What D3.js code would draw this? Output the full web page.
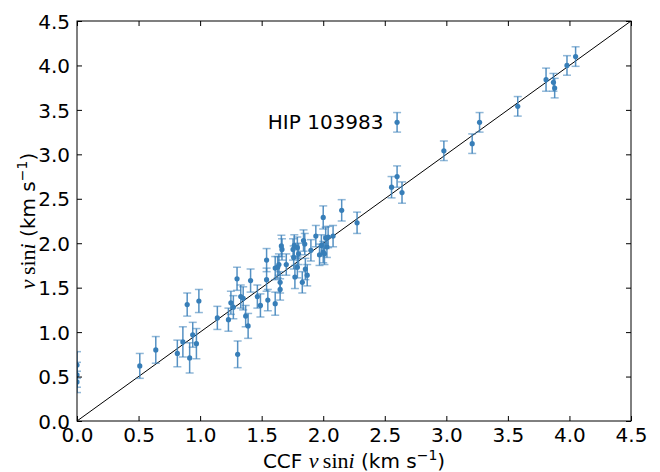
<!DOCTYPE html>
<html>
<head>
<meta charset="utf-8">
<script src="https://cdn.jsdelivr.net/npm/d3@7"></script>
<style>
  body { margin: 0; background: #fff; }
  text { font-family: "DejaVu Sans", sans-serif; }
</style>
</head>
<body>
<div id="chart"></div>
<script>
// CCF v sin i (x), measured v sin i (y) and its uncertainty
const ccfVsini = [0.00, 0.00, 0.00, 0.51, 0.64, 0.815, 0.86, 0.895, 0.915, 0.94, 0.97, 0.99,
  1.14, 1.23, 1.25, 1.27, 1.30, 1.305, 1.33, 1.35, 1.37, 1.39, 1.41, 1.465, 1.49,
  1.54, 1.54, 1.55, 1.61, 1.61, 1.63, 1.65, 1.65, 1.64, 1.66, 1.665, 1.70, 1.755,
  1.76, 1.765, 1.77, 1.79, 1.79, 1.80, 1.83, 1.84, 1.85, 1.855, 1.87, 1.90, 1.94,
  1.97, 1.985, 2.00, 2.01, 2.02, 2.03, 2.04, 2.08, 2.00, 2.15, 2.275,
  2.555, 2.60, 2.64, 2.60, 2.98, 3.21, 3.27, 3.58, 3.81, 3.87, 3.88, 3.98, 4.05];
const vsini = [0.63, 0.52, 0.44, 0.62, 0.80, 0.76, 0.89, 1.31, 0.71, 0.97, 0.87, 1.35,
  1.16, 1.14, 1.33, 1.28, 1.60, 0.75, 1.40, 1.38, 1.18, 1.07, 1.58, 1.40, 1.30,
  1.81, 1.59, 1.36, 1.32, 1.72, 1.73, 1.56, 1.48, 1.76, 1.97, 1.93, 1.76, 1.93,
  1.84, 1.975, 1.62, 1.73, 1.95, 1.88, 1.56, 2.03, 1.99, 1.71, 1.64, 1.92, 2.08,
  1.87, 1.975, 1.90, 1.88, 2.06, 1.96, 2.07, 2.08, 2.29, 2.37, 2.23,
  2.63, 2.75, 2.57, 3.36, 3.04, 3.12, 3.36, 3.54, 3.84, 3.81, 3.745, 4.00, 4.10];
const vsiniErr = [0.15, 0.14, 0.12, 0.14, 0.15, 0.15, 0.17, 0.13, 0.17, 0.14, 0.17, 0.13,
  0.13, 0.13, 0.13, 0.13, 0.13, 0.15, 0.13, 0.13, 0.12, 0.14, 0.13, 0.13, 0.13,
  0.13, 0.13, 0.12, 0.13, 0.13, 0.12, 0.12, 0.12, 0.12, 0.12, 0.12, 0.12, 0.12,
  0.13, 0.12, 0.13, 0.12, 0.12, 0.12, 0.12, 0.12, 0.12, 0.12, 0.12, 0.12, 0.12,
  0.12, 0.12, 0.12, 0.12, 0.12, 0.12, 0.12, 0.12, 0.13, 0.12, 0.12,
  0.12, 0.12, 0.12, 0.11, 0.11, 0.11, 0.11, 0.11, 0.13, 0.10, 0.11, 0.11, 0.11];
const ticks = [0, 0.5, 1, 1.5, 2, 2.5, 3, 3.5, 4, 4.5];
const note = { label: 'HIP 103983', x: 1.55, y: 3.36 };

const W = 660, H = 472;
const margin = { left: 77, right: 29, top: 21, bottom: 51 };
const color = '#377eb8';
const serif = '"Liberation Serif", "DejaVu Serif", serif';

const svg = d3.select('#chart').append('svg').attr('width', W).attr('height', H);

const x = d3.scaleLinear().domain([0, 4.5]).range([margin.left, W - margin.right]);
const y = d3.scaleLinear().domain([0, 4.5]).range([H - margin.bottom, margin.top]);

const pts = ccfVsini.map((v, i) => ({ x: v, y: vsini[i], e: vsiniErr[i] }));

svg.append('clipPath').attr('id', 'plot')
  .append('rect')
  .attr('x', x(0)).attr('y', y(4.5))
  .attr('width', x(4.5) - x(0)).attr('height', y(0) - y(4.5));

const g = svg.append('g').attr('clip-path', 'url(#plot)');

// 1:1 line
g.append('line')
  .attr('x1', x(0)).attr('y1', y(0))
  .attr('x2', x(4.5)).attr('y2', y(4.5))
  .attr('stroke', '#000').attr('stroke-width', 1);

// error bars
const bars = g.selectAll('.err').data(pts).enter().append('g').attr('class', 'err');
bars.append('line')
  .attr('x1', (d) => x(d.x)).attr('x2', (d) => x(d.x))
  .attr('y1', (d) => y(d.y - d.e)).attr('y2', (d) => y(d.y + d.e))
  .attr('stroke', color).attr('stroke-width', 1.5).attr('stroke-opacity', 0.85);
[-1, 1].forEach((s) => {
  bars.append('line')
    .attr('x1', (d) => x(d.x) - 4).attr('x2', (d) => x(d.x) + 4)
    .attr('y1', (d) => y(d.y + s * d.e)).attr('y2', (d) => y(d.y + s * d.e))
    .attr('stroke', color).attr('stroke-width', 1.5).attr('stroke-opacity', 0.55);
});

// points
g.selectAll('.pt').data(pts).enter().append('circle')
  .attr('class', 'pt')
  .attr('cx', (d) => x(d.x)).attr('cy', (d) => y(d.y))
  .attr('r', 2.6).attr('fill', color);

// axes, ticks inside on all four sides
const fmt = d3.format('.1f');
const styleAxis = (sel) => {
  sel.select('.domain').remove();
  sel.selectAll('.tick line').attr('stroke', '#000');
  sel.selectAll('.tick text').attr('font-size', 20).attr('fill', '#000')
    .attr('font-family', '"DejaVu Sans", sans-serif');
};
svg.append('g').attr('transform', `translate(0,${y(0)})`)
  .call(d3.axisBottom(x).tickValues(ticks).tickFormat(fmt).tickSizeInner(-5).tickSizeOuter(0).tickPadding(7))
  .call(styleAxis);
svg.append('g').attr('transform', `translate(${x(0)},0)`)
  .call(d3.axisLeft(y).tickValues(ticks).tickFormat(fmt).tickSizeInner(-5).tickSizeOuter(0).tickPadding(7))
  .call(styleAxis)
  .selectAll('.tick text').attr('dy', '0.36em');
svg.append('g').attr('transform', `translate(0,${y(4.5)})`)
  .call(d3.axisTop(x).tickValues(ticks).tickFormat('').tickSizeInner(-5).tickSizeOuter(0))
  .call(styleAxis);
svg.append('g').attr('transform', `translate(${x(4.5)},0)`)
  .call(d3.axisRight(y).tickValues(ticks).tickFormat('').tickSizeInner(-5).tickSizeOuter(0))
  .call(styleAxis);

// frame
svg.append('rect')
  .attr('x', x(0)).attr('y', y(4.5))
  .attr('width', x(4.5) - x(0)).attr('height', y(0) - y(4.5))
  .attr('fill', 'none').attr('stroke', '#000').attr('stroke-width', 1);

// axis labels with math parts
function mathLabel(t, prefix) {
  if (prefix) t.append('tspan').text(prefix);
  t.append('tspan').attr('font-family', serif).attr('font-style', 'italic').attr('font-size', 22).text('v');
  t.append('tspan').attr('font-family', serif).attr('font-size', 22).text('\u2009sin');
  t.append('tspan').attr('font-family', serif).attr('font-style', 'italic').attr('font-size', 22).text('i');
  t.append('tspan').text(' (km s');
  t.append('tspan').attr('font-size', 14).attr('dy', -8).text('\u22121');
  t.append('tspan').attr('dy', 8).text(')');
}
const xl = svg.append('text')
  .attr('x', (x(0) + x(4.5)) / 2).attr('y', 468)
  .attr('text-anchor', 'middle').attr('font-size', 20);
mathLabel(xl, 'CCF ');

const yl = svg.append('text')
  .attr('transform', `translate(35,${(y(0) + y(4.5)) / 2}) rotate(-90)`)
  .attr('text-anchor', 'middle').attr('font-size', 20);
mathLabel(yl, null);

// annotation
svg.append('text')
  .attr('x', x(note.x)).attr('y', y(note.y) + 7)
  .attr('font-size', 20).attr('fill', '#000')
  .text(note.label);
</script>
</body>
</html>
